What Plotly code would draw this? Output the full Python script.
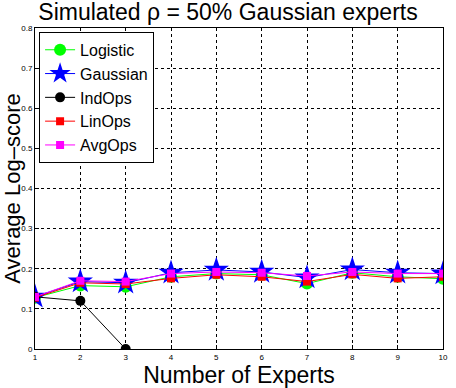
import plotly.graph_objects as go

experts = [1, 2, 3, 4, 5, 6, 7, 8, 9, 10]
logistic = [0.128, 0.158, 0.155, 0.180, 0.188, 0.185, 0.163, 0.190, 0.180, 0.175]
gaussian = [0.130, 0.168, 0.165, 0.190, 0.197, 0.192, 0.178, 0.198, 0.190, 0.188]
indops_x = [1, 2, 3]
indops = [0.130, 0.120, 0.0]
linops = [0.128, 0.165, 0.162, 0.176, 0.185, 0.180, 0.168, 0.186, 0.176, 0.180]
avgops = [0.130, 0.170, 0.168, 0.188, 0.192, 0.190, 0.182, 0.192, 0.188, 0.188]

FONT = "Liberation Sans, Arial, Helvetica, sans-serif"

fig = go.Figure()
fig.add_trace(go.Scatter(x=experts, y=logistic, name="Logistic", mode="lines+markers",
                         line=dict(color="#00ff00", width=1),
                         marker=dict(symbol="circle", size=12, color="#00ff00")))
fig.add_trace(go.Scatter(x=experts, y=gaussian, name="Gaussian", mode="lines+markers",
                         line=dict(color="#0000ff", width=1),
                         marker=dict(symbol="star", size=19, color="#0000ff")))
fig.add_trace(go.Scatter(x=indops_x, y=indops, name="IndOps", mode="lines+markers",
                         line=dict(color="black", width=1),
                         marker=dict(symbol="circle", size=10, color="black")))
fig.add_trace(go.Scatter(x=experts, y=linops, name="LinOps", mode="lines+markers",
                         line=dict(color="#ff0000", width=1),
                         marker=dict(symbol="square", size=8, color="#ff0000")))
fig.add_trace(go.Scatter(x=experts, y=avgops, name="AvgOps", mode="lines+markers",
                         line=dict(color="#ff00ff", width=1),
                         marker=dict(symbol="square", size=8, color="#ff00ff")))

axis_style = dict(showline=True, mirror=True, linecolor="black", linewidth=1,
                  showgrid=True, gridcolor="black", griddash="dot", gridwidth=1,
                  ticks="inside", ticklen=4, tickcolor="black", automargin=False,
                  tickfont=dict(size=8, family=FONT, color="black"), zeroline=False)

fig.update_xaxes(range=[1, 10], tickvals=experts, **axis_style,
                 title=dict(text="Number of Experts", font=dict(size=23, family=FONT, color="black"),
                            standoff=2))
fig.update_yaxes(range=[0, 0.8], tickvals=[0, 0.1, 0.2, 0.3, 0.4, 0.5, 0.6, 0.7, 0.8],
                 ticktext=["0", "0.1", "0.2", "0.3", "0.4", "0.5", "0.6", "0.7", "0.8"],
                 **axis_style,
                 title=dict(text="Average Log\u2013score", font=dict(size=22, family=FONT, color="black"),
                            standoff=0))

fig.update_layout(
    width=456, height=388,
    margin=dict(l=35, r=13, t=28, b=39, autoexpand=False),
    paper_bgcolor="white", plot_bgcolor="white",
    title=dict(text="Simulated \u03c1 = 50% Gaussian experts", x=0.5, xanchor="center",
               y=0.97, yanchor="middle", font=dict(size=23, family=FONT, color="black")),
    legend=dict(x=0.01, y=0.988, xanchor="left", yanchor="top",
                bgcolor="white", bordercolor="black", borderwidth=1,
                font=dict(size=16, family=FONT, color="black"),
                itemsizing="trace", tracegroupgap=0),
    showlegend=True,
)

# the page body has a default 8px margin; drop it so the figure sits at 0,0
fig.write_html("out.html", config={"displayModeBar": False},
               post_script="document.body.style.margin='0';")
